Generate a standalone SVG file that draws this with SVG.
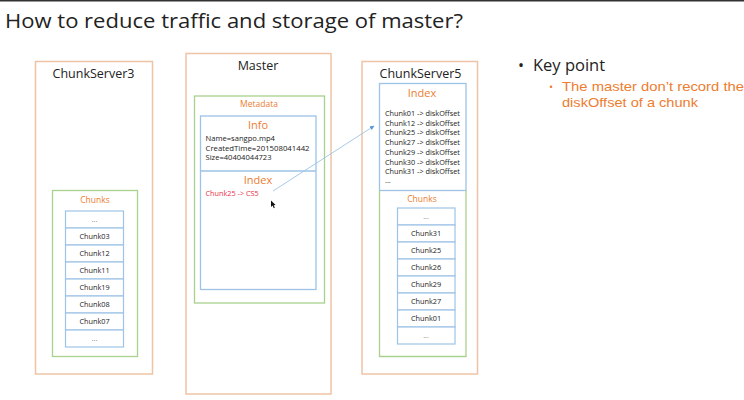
<svg xmlns="http://www.w3.org/2000/svg" width="744" height="400" viewBox="0 0 744 400">
<defs>
<style>
text{font-family:"Open Sans","Noto Sans","Liberation Sans",sans-serif}
.srv{fill:none;stroke:#EFC4A6;stroke-width:1.5}
.grn{fill:none;stroke:#A9D18E;stroke-width:1.3}
.blu{fill:#fff;stroke:#9DC3E6;stroke-width:1.3}
.cell{fill:#fff;stroke:#9DC3E6;stroke-width:1.2}
.h{font-size:12.5px;fill:#222;text-anchor:middle}
.org{fill:#ED7D31;text-anchor:middle}
.sm{font-size:7.3px;fill:#222}
.info{font-size:7.6px;fill:#222}
.ct{font-size:7.3px;fill:#222;text-anchor:middle}
.dot{font-size:7px;fill:#777;text-anchor:middle}
.kp{font-family:"Liberation Sans",Arial,sans-serif;font-size:13px;fill:#ED7D31}
</style>
<marker id="ah" viewBox="0 0 10 10" refX="9" refY="5" markerWidth="5" markerHeight="5" orient="auto">
<path d="M0,0 L10,5 L0,10 z" fill="#5B9BD5"/>
</marker>
</defs>
<rect width="744" height="400" fill="#fff"/>
<rect x="0" y="0" width="744" height="1.5" fill="#333"/>
<text x="5" y="28" font-size="20" fill="#222" textLength="458" lengthAdjust="spacingAndGlyphs">How to reduce traffic and storage of master?</text>

<g id="chunkserver3">
<rect class="srv" x="35.5" y="61.5" width="117" height="312.5"/>
<text class="h" x="93.5" y="78">ChunkServer3</text>
<rect class="grn" x="52.5" y="190.5" width="85" height="166"/>
<text class="org" x="95" y="203" font-size="8.5">Chunks</text>
<g>
<rect class="cell" x="65.5" y="211" width="58" height="17"/>
<rect class="cell" x="65.5" y="228" width="58" height="17"/>
<rect class="cell" x="65.5" y="245" width="58" height="17"/>
<rect class="cell" x="65.5" y="262" width="58" height="17"/>
<rect class="cell" x="65.5" y="279" width="58" height="17"/>
<rect class="cell" x="65.5" y="296" width="58" height="17"/>
<rect class="cell" x="65.5" y="313" width="58" height="17"/>
<rect class="cell" x="65.5" y="330" width="58" height="17"/>
<text class="dot" x="94.5" y="222">...</text>
<text class="ct" x="94.5" y="239">Chunk03</text>
<text class="ct" x="94.5" y="256">Chunk12</text>
<text class="ct" x="94.5" y="273">Chunk11</text>
<text class="ct" x="94.5" y="290">Chunk19</text>
<text class="ct" x="94.5" y="307">Chunk08</text>
<text class="ct" x="94.5" y="324">Chunk07</text>
<text class="dot" x="94.5" y="341">...</text>
</g>
</g>

<g id="master">
<rect class="srv" x="186" y="53.5" width="145" height="340.5"/>
<text class="h" x="258" y="70">Master</text>
<rect class="grn" x="194.5" y="96" width="130" height="207"/>
<text class="org" x="259" y="107" font-size="8.5">Metadata</text>
<rect class="blu" x="200.5" y="116" width="115.5" height="173.5"/>
<line x1="200.5" y1="171" x2="316" y2="171" stroke="#9DC3E6" stroke-width="1.3"/>
<text class="org" x="258" y="129" font-size="11">Info</text>
<text class="info" x="205.5" y="141">Name=sangpo.mp4</text>
<text class="info" x="205.5" y="150.5" textLength="104" lengthAdjust="spacingAndGlyphs">CreatedTime=201508041442</text>
<text class="info" x="205.5" y="160">Size=40404044723</text>
<text class="org" x="258" y="184" font-size="11">Index</text>
<text x="205.5" y="196" font-size="7.3" fill="#E8314B">Chunk25 -&gt; CS5</text>
</g>

<g id="chunkserver5">
<rect class="srv" x="362" y="61.5" width="115.5" height="312.5"/>
<text class="h" x="420.5" y="78">ChunkServer5</text>
<rect class="blu" x="379.5" y="83.5" width="86.5" height="107"/>
<text class="org" x="422" y="97" font-size="11">Index</text>
<text class="sm" x="385" y="116">Chunk01 -&gt; diskOffset</text>
<text class="sm" x="385" y="125.7">Chunk12 -&gt; diskOffset</text>
<text class="sm" x="385" y="135.4">Chunk25 -&gt; diskOffset</text>
<text class="sm" x="385" y="145.1">Chunk27 -&gt; diskOffset</text>
<text class="sm" x="385" y="154.8">Chunk29 -&gt; diskOffset</text>
<text class="sm" x="385" y="164.5">Chunk30 -&gt; diskOffset</text>
<text class="sm" x="385" y="174.2">Chunk31 -&gt; diskOffset</text>
<text class="sm" x="385" y="183" fill="#777">...</text>
<path d="M379.5,190.5 V356.5 H466 V190.5" class="grn"/>
<text class="org" x="422" y="202" font-size="8.5">Chunks</text>
<g>
<rect class="cell" x="397.5" y="208" width="57.5" height="17"/>
<rect class="cell" x="397.5" y="225" width="57.5" height="17"/>
<rect class="cell" x="397.5" y="242" width="57.5" height="17"/>
<rect class="cell" x="397.5" y="259" width="57.5" height="17"/>
<rect class="cell" x="397.5" y="276" width="57.5" height="17"/>
<rect class="cell" x="397.5" y="293" width="57.5" height="17"/>
<rect class="cell" x="397.5" y="310" width="57.5" height="17"/>
<rect class="cell" x="397.5" y="327" width="57.5" height="17"/>
<text class="dot" x="426" y="219">...</text>
<text class="ct" x="426" y="236">Chunk31</text>
<text class="ct" x="426" y="253">Chunk25</text>
<text class="ct" x="426" y="270">Chunk26</text>
<text class="ct" x="426" y="287">Chunk29</text>
<text class="ct" x="426" y="304">Chunk27</text>
<text class="ct" x="426" y="321">Chunk01</text>
<text class="dot" x="426" y="338">...</text>
</g>
</g>

<g id="connectors">
<line x1="273" y1="191" x2="374" y2="126" stroke="#9DC3E6" stroke-width="0.9" marker-end="url(#ah)"/>
</g>

<g id="cursor">
<path d="M271,200.5 L271,207 L272.6,205.6 L273.8,208.2 L274.8,207.7 L273.7,205.2 L275.6,205 Z" fill="#111"/>
</g>

<g id="keypoint">
<text x="518" y="71" font-size="16" fill="#222">•</text>
<text x="533" y="71" font-size="16.5" fill="#222">Key point</text>
<text x="549" y="91" font-size="11" fill="#ED7D31">•</text>
<text class="kp" x="562" y="91" textLength="182" lengthAdjust="spacingAndGlyphs">The master don’t record the</text>
<text class="kp" x="562" y="106.5" textLength="136" lengthAdjust="spacingAndGlyphs">diskOffset of a chunk</text>
</g>
</svg>
